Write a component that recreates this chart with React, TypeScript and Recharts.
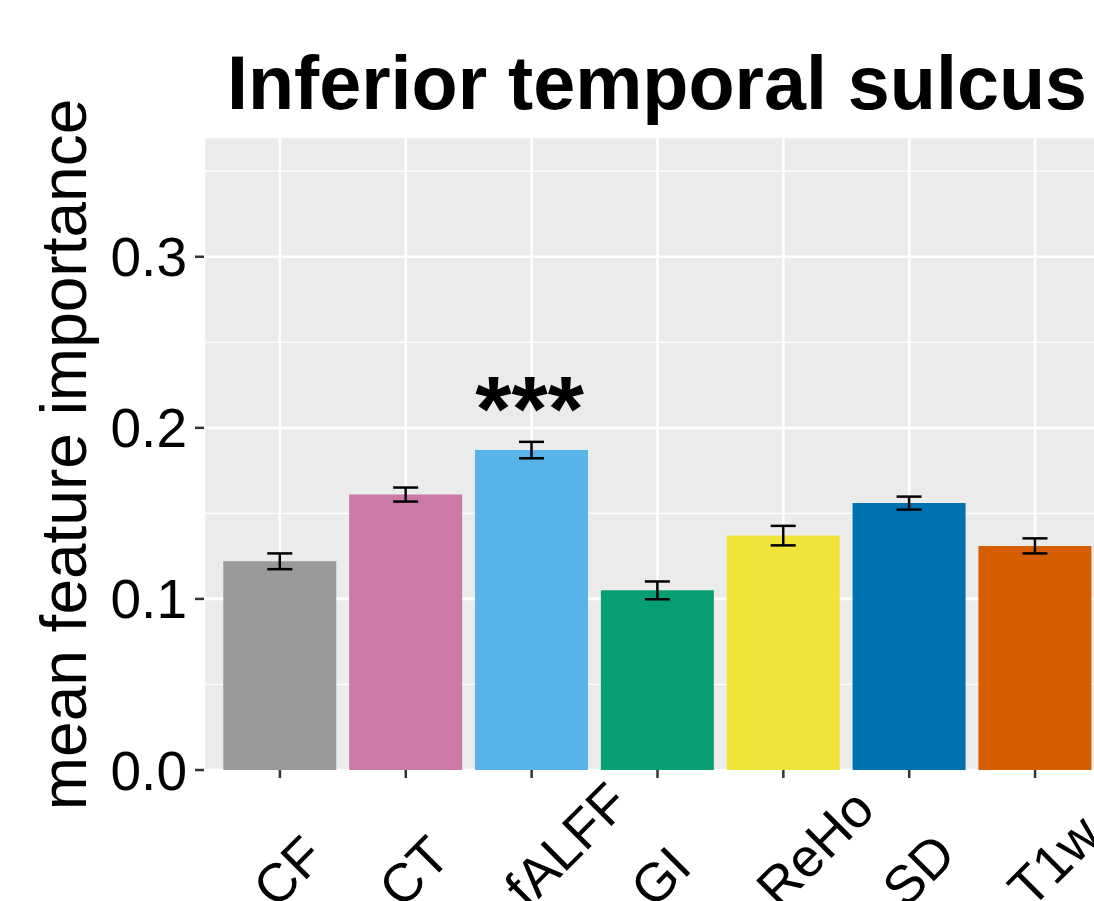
import React from "react";
import {
  BarChart, Bar, XAxis, YAxis, CartesianGrid, ErrorBar, Cell, ReferenceDot,
} from "recharts";

// feature importance per feature type, inferior temporal sulcus
const features = ["CF", "CT", "fALFF", "GI", "ReHo", "SD", "T1w"];
const meanImportance = [0.122, 0.161, 0.187, 0.105, 0.137, 0.156, 0.131];
const stdError = [0.0046, 0.0041, 0.0048, 0.0052, 0.0057, 0.0038, 0.0044];
const significance = ["", "", "***", "", "", "", ""];
const barColors = ["#999999", "#CC79A7", "#56B4E9", "#069E73", "#F0E43A", "#0072B2", "#D55E00"];
const majorTicks = [0, 0.1, 0.2, 0.3];
const minorTicks = [0.05, 0.15, 0.25, 0.35];

const FONT = '"Liberation Sans", Arial, Helvetica, sans-serif';

// labels start at the tick and run up to the right (45 degrees)
function XTick(props: any) {
  const { x, y, payload } = props;
  const sx = x - 4;
  const sy = y + 132;
  return (
    <text
      x={sx}
      y={sy}
      textAnchor="start"
      fontSize={54}
      fill="#000"
      transform={`rotate(-45, ${sx}, ${sy})`}
    >
      {payload.value}
    </text>
  );
}

function YTitle(props: any) {
  const vb = props.viewBox || { y: 137, height: 633 };
  const cx = 86;
  const cy = vb.y + vb.height / 2 + 1;
  return (
    <text x={cx} y={cy} textAnchor="middle" fontSize={64} fill="#000" transform={`rotate(-90, ${cx}, ${cy})`}>
      mean feature importance
    </text>
  );
}

function SigLabel(text: string) {
  return (props: any) => {
    const vb = props.viewBox;
    const x = vb.x + (vb.width || 0) / 2;
    const y = vb.y + (vb.height || 0) / 2;
    return (
      <text x={x - 2} y={y - 1} textAnchor="middle" fontSize={93} fontWeight="bold" fill="#000">
        {text}
      </text>
    );
  };
}

export default function App() {
  const data = features.map((name, i) => ({
    name,
    mean: meanImportance[i],
    err: stdError[i],
  }));

  return (
    <div
      style={{
        position: "absolute", left: 0, top: 0, width: 1094, height: 901,
        overflow: "hidden", background: "#fff", fontFamily: FONT,
      }}
    >
      <div
        style={{
          position: "absolute", left: 0, top: 46, width: 1314, textAlign: "center",
          fontSize: 75.5, fontWeight: "bold", lineHeight: 1, color: "#000", whiteSpace: "nowrap",
        }}
      >
        Inferior temporal sulcus
      </div>
      <BarChart
        width={1120}
        height={901}
        data={data}
        margin={{ top: 137, right: 9, left: 0, bottom: 0 }}
        barCategoryGap="5%"
      >
        <CartesianGrid fill="#EBEBEB" stroke="#fff" strokeWidth={2.6} />
        <CartesianGrid yAxisId="minor" vertical={false} stroke="#fff" strokeWidth={1.3} />
        <XAxis
          dataKey="name"
          interval={0}
          padding={{ left: 13, right: 13 }}
          height={131}
          axisLine={false}
          tickLine={{ stroke: "#333", strokeWidth: 2.5 }}
          tickSize={8}
          tickMargin={0}
          tick={<XTick />}
        />
        <YAxis
          width={204}
          domain={[0, 0.37]}
          allowDataOverflow
          ticks={majorTicks}
          tickFormatter={(v: number) => v.toFixed(1)}
          axisLine={false}
          tickLine={{ stroke: "#333", strokeWidth: 2.5 }}
          tickSize={9}
          tickMargin={8}
          tick={{ fontSize: 55, fill: "#000" }}
          label={<YTitle />}
        />
        <YAxis yAxisId="minor" hide domain={[0, 0.37]} allowDataOverflow ticks={minorTicks} />
        <Bar dataKey="mean" isAnimationActive={false}>
          {data.map((d, i) => (
            <Cell key={d.name} fill={barColors[i]} />
          ))}
          <ErrorBar dataKey="err" width={12.5} stroke="#000" strokeWidth={2.5} isAnimationActive={false} />
        </Bar>
        {features.map((f, i) =>
          significance[i] ? (
            <ReferenceDot
              key={f}
              x={f}
              y={meanImportance[i] + stdError[i]}
              r={0}
              fill="none"
              stroke="none"
              label={SigLabel(significance[i])}
            />
          ) : null,
        )}
      </BarChart>
    </div>
  );
}
